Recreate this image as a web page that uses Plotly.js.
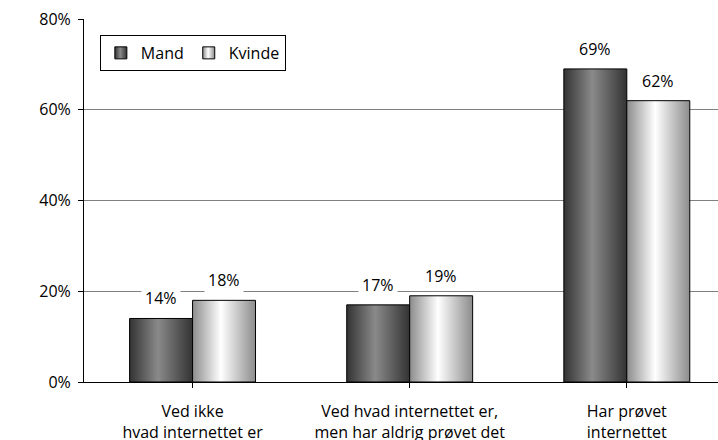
<!DOCTYPE html>
<html>
<head>
<meta charset="utf-8">
<script src="https://cdn.plot.ly/plotly-3.0.1.min.js"></script>
<style>
html,body{margin:0;padding:0;background:#fff;}
#chart{width:718px;height:440px;}
</style>
</head>
<body>
<div id="chart"></div>
<script>
const categories = ["Ved ikke<br>hvad internettet er", "Ved hvad internettet er,<br>men har aldrig prøvet det", "Har prøvet<br>internettet"];
const seriesNames = ["Mand", "Kvinde"];
const mandValues = [14, 17, 69];
const kvindeValues = [18, 19, 62];
const yTickVals = [0, 20, 40, 60, 80];
const yTickText = ["0%", "20%", "40%", "60%", "80%"];

const FONT = "Open Sans, DejaVu Sans, sans-serif";
const FS = 16;
const bargap = 0.42;
const barW = (1 - bargap) / 2;

const traces = [
  {type: "bar", name: seriesNames[0], x: [0,1,2], y: mandValues,
   marker: {color: "#666", line: {color: "#000", width: 1}}, hoverinfo: "none"},
  {type: "bar", name: seriesNames[1], x: [0,1,2], y: kvindeValues,
   marker: {color: "#ddd", line: {color: "#000", width: 1}}, hoverinfo: "none"}
];

const annotations = [];
[mandValues, kvindeValues].forEach((vals, i) => {
  vals.forEach((v, j) => {
    annotations.push({
      x: j + (i === 0 ? -barW / 2 : barW / 2), y: v, xref: "x", yref: "y",
      text: v + "%", showarrow: false, yanchor: "bottom", yshift: 5,
      bgcolor: "#fff", borderpad: 3,
      font: {family: FONT, size: FS, color: "#000"}
    });
  });
});

const layout = {
  width: 718, height: 440,
  margin: {l: 84, r: 0, t: 19, b: 58, pad: 0},
  paper_bgcolor: "#fff", plot_bgcolor: "#fff",
  barmode: "group", bargap: bargap, bargroupgap: 0,
  font: {family: FONT, size: FS, color: "#000"},
  showlegend: true,
  legend: {
    x: 0.025, y: 0.956, xanchor: "left", yanchor: "top",
    orientation: "h", bgcolor: "#fff", bordercolor: "#000", borderwidth: 1,
    font: {family: FONT, size: FS, color: "#000"},
    itemwidth: 30, tracegroupgap: 0
  },
  xaxis: {
    range: [-0.5, 2.42],
    tickmode: "array", tickvals: [0,1,2], ticktext: categories,
    tickson: "boundaries", ticks: "outside", ticklen: 5, tickcolor: "#000",
    ticklabelstandoff: 10,
    showline: true, linecolor: "#000", linewidth: 1,
    showgrid: false, zeroline: false, fixedrange: true,
    tickfont: {family: FONT, size: FS, color: "#000"}
  },
  yaxis: {
    range: [0, 80],
    tickmode: "array", tickvals: yTickVals, ticktext: yTickText,
    ticks: "outside", ticklen: 5, tickcolor: "#000",
    ticklabelstandoff: 4,
    showline: true, linecolor: "#000", linewidth: 1,
    showgrid: true, gridcolor: "#808080", gridwidth: 1,
    zeroline: false, fixedrange: true,
    tickfont: {family: FONT, size: FS, color: "#000"}
  },
  annotations: annotations
};

const gd = document.getElementById("chart");
Plotly.newPlot(gd, traces, layout, {staticPlot: true, displayModeBar: false}).then(() => {
  const NS = "http://www.w3.org/2000/svg";
  const svg = gd.querySelector("svg.main-svg");
  let defs = svg.querySelector("defs");
  if (!defs) { defs = document.createElementNS(NS, "defs"); svg.insertBefore(defs, svg.firstChild); }
  function grad(id, stops) {
    const g = document.createElementNS(NS, "linearGradient");
    g.setAttribute("id", id);
    g.setAttribute("x1", "0"); g.setAttribute("y1", "0");
    g.setAttribute("x2", "1"); g.setAttribute("y2", "0");
    stops.forEach(([o, c]) => {
      const s = document.createElementNS(NS, "stop");
      s.setAttribute("offset", o); s.setAttribute("stop-color", c);
      g.appendChild(s);
    });
    defs.appendChild(g);
  }
  grad("gMand", [["0", "#333"], ["0.45", "#8a8a8a"], ["1", "#333"]]);
  grad("gKvinde", [["0", "#8c8c8c"], ["0.45", "#ffffff"], ["1", "#8c8c8c"]]);
  const ids = ["gMand", "gKvinde"];
  gd.querySelectorAll(".barlayer .trace").forEach((t, i) => {
    t.querySelectorAll("path").forEach(p => p.style.fill = "url(#" + ids[i] + ")");
  });
  gd.querySelectorAll(".legend .traces").forEach((t, i) => {
    t.querySelectorAll(".legendpoints path").forEach(p => p.style.fill = "url(#" + ids[i] + ")");
  });
});
</script>
</body>
</html>
